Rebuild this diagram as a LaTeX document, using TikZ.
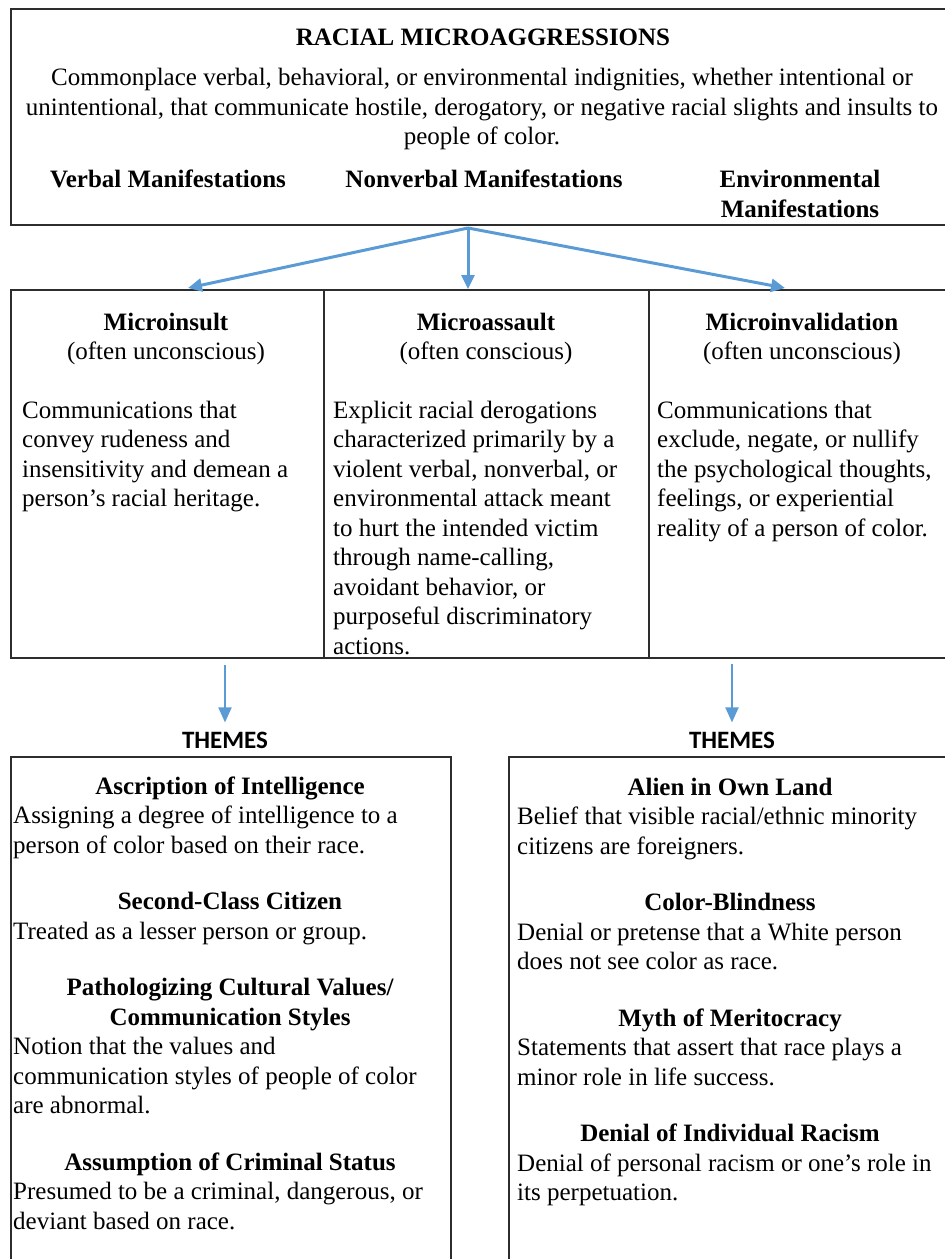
\documentclass[tikz,border=0pt]{standalone}
\usepackage{fontspec}
\setmainfont{Liberation Serif}
\newfontfamily\themefont{Carlito}
\usetikzlibrary{arrows.meta,positioning}
\definecolor{arrowblue}{RGB}{91,155,213}
\definecolor{boxline}{RGB}{45,45,45}

\tikzset{
  panel/.style={draw=boxline, line width=2.4pt, anchor=north west, inner sep=0pt},
  cell/.style={draw=boxline, line width=2pt, anchor=north west, inner sep=0pt, minimum height=368pt},
  txt/.style={inner sep=0pt, font=\fontsize{25}{29.5}\selectfont},
  heading/.style={txt, font=\fontsize{25}{29.5}\selectfont\bfseries, anchor=base, align=center},
  bodytext/.style={txt, anchor=base west, align=left},
  themelabel/.style={inner sep=0pt, anchor=base, font=\themefont\bfseries\fontsize{25}{30}\selectfont},
  bigarrow/.style={draw=arrowblue, line width=3pt, -{Triangle[length=14pt,width=13pt]}},
  smallarrow/.style={draw=arrowblue, line width=2pt, -{Triangle[length=15pt,width=13pt]}}
}

\begin{document}
\begin{tikzpicture}[x=1pt,y=-1pt]
  \useasboundingbox (0,0) rectangle (945,1259);

  % draw the top box (multi-line nodes sit on their last baseline)
  \node[panel, minimum width=946pt, minimum height=216pt] (top) at (10,8) {};
  \node[heading] (title) at (483,45) {RACIAL MICROAGGRESSIONS};
  \node[txt, anchor=base, align=center] (def) at (482,144.5)
    {Commonplace verbal, behavioral, or environmental indignities, whether intentional or\\
     unintentional, that communicate hostile, derogatory, or negative racial slights and insults to\\
     people of color.};
  \node[heading] (verbal) at (168,187) {Verbal Manifestations};
  \node[heading] (nonverbal) at (484,187) {Nonverbal Manifestations};
  \node[heading] (environ) at (800,217) {Environmental\\Manifestations};

  % draw the three cells
  \node[cell, minimum width=313pt] (ins) at (10,289) {};
  \node[cell, minimum width=325pt] (ass) at (323,289) {};
  \node[cell, minimum width=308pt] (inv) at (648,289) {};

  \node[heading] (insT) at (166,330) {Microinsult};
  \node[txt, anchor=base] (insS) at (166,359.5) {(often unconscious)};
  \node[bodytext] (insB) at (22,506.5)
    {Communications that\\convey rudeness and\\insensitivity and demean a\\person's racial heritage.};

  \node[heading] (assT) at (486,330) {Microassault};
  \node[txt, anchor=base] (assS) at (486,359.5) {(often conscious)};
  \node[bodytext] (assB) at (333,654)
    {Explicit racial derogations\\characterized primarily by a\\violent verbal, nonverbal, or\\
     environmental attack meant\\to hurt the intended victim\\through name-calling,\\
     avoidant behavior, or\\purposeful discriminatory\\actions.};

  \node[heading] (invT) at (802,330) {Microinvalidation};
  \node[txt, anchor=base] (invS) at (802,359.5) {(often unconscious)};
  \node[bodytext] (invB) at (657,536)
    {Communications that\\exclude, negate, or nullify\\the psychological thoughts,\\
     feelings, or experiential\\reality of a person of color.};

  % arrows from the top box
  \coordinate (hub) at (468,228);
  \coordinate (tipL) at (188,288);
  \coordinate (tipR) at (785,288);
  \draw[bigarrow] (hub) -- (tipL);
  \draw[bigarrow] (hub) -- (ass.north -| hub);
  \draw[bigarrow] (hub) -- (tipR);

  % themes labels and arrows
  \node[themelabel] (themesL) at (225,748) {THEMES};
  \node[themelabel] (themesR) at (732,748) {THEMES};
  \draw[smallarrow] ([yshift=-6pt]ins.south -| themesL) -- ([yshift=9pt]themesL.north);
  \draw[smallarrow] ([yshift=-5pt]inv.south -| themesR) -- ([yshift=9pt]themesR.north);

  % draw the two theme boxes
  \node[cell, minimum width=440pt, minimum height=600pt] (left) at (10,756) {};
  \node[cell, minimum width=448pt, minimum height=600pt] (right) at (508,756) {};

  \node[heading] (h1) at (230,794) {Ascription of Intelligence};
  \node[bodytext] (b1) at (13,853)
    {Assigning a degree of intelligence to a\\person of color based on their race.};
  \node[heading] (h2) at (230,909.5) {Second-Class Citizen};
  \node[bodytext] (b2) at (13,939) {Treated as a lesser person or group.};
  \node[heading] (h3) at (230,1025) {Pathologizing Cultural Values/\\Communication Styles};
  \node[bodytext] (b3) at (13,1113.5)
    {Notion that the values and\\communication styles of people of color\\are abnormal.};
  \node[heading] (h4) at (230,1170) {Assumption of Criminal Status};
  \node[bodytext] (b4) at (13,1229)
    {Presumed to be a criminal, dangerous, or\\deviant based on race.};

  \node[heading] (h5) at (730,795) {Alien in Own Land};
  \node[bodytext] (b5) at (517,854)
    {Belief that visible racial/ethnic minority\\citizens are foreigners.};
  \node[heading] (h6) at (730,910.5) {Color-Blindness};
  \node[bodytext] (b6) at (517,969.5)
    {Denial or pretense that a White person\\does not see color as race.};
  \node[heading] (h7) at (730,1026) {Myth of Meritocracy};
  \node[bodytext] (b7) at (517,1085)
    {Statements that assert that race plays a\\minor role in life success.};
  \node[heading] (h8) at (730,1141.5) {Denial of Individual Racism};
  \node[bodytext] (b8) at (517,1200.5)
    {Denial of personal racism or one's role in\\its perpetuation.};
\end{tikzpicture}
\end{document}
